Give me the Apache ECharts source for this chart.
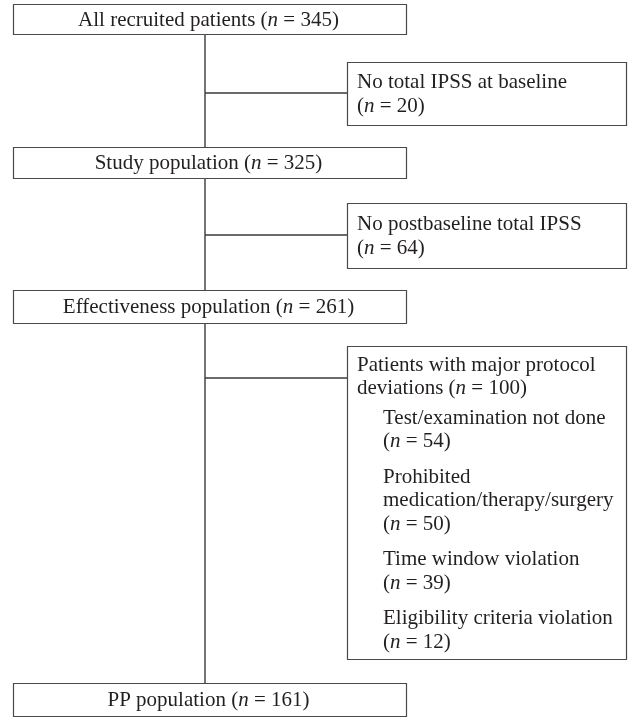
<!DOCTYPE html>
<html><head><meta charset="utf-8">
<script src="https://cdn.jsdelivr.net/npm/echarts@6/dist/echarts.min.js"></script>
<style>html,body{margin:0;padding:0;background:#fff}#c{width:632px;height:717px}</style>
</head><body><div id="c"></div>
<script>
// ---- data ----
const stageLabels = ['All recruited patients', 'Study population', 'Effectiveness population', 'PP population'];
const stageCounts = [345, 325, 261, 161];
const exclusionLabels = ['No total IPSS at baseline\n', 'No postbaseline total IPSS\n', 'Patients with major protocol\ndeviations '];
const exclusionCounts = [20, 64, 100];
const deviationLabels = ['Test/examination not done\n', 'Prohibited\nmedication/therapy/surgery\n', 'Time window violation\n', 'Eligibility criteria violation\n'];
const deviationCounts = [54, 50, 39, 12];

// ---- layout & style ----
const W = 632, H = 717;
const FONT = '"Liberation Serif", "Times New Roman", serif';
const FS = 21, LH = 23.5, GROUP_GAP = 12, HEADER_GAP = 6;
const TEXT_COLOR = '#231f20', LINE_COLOR = '#3a3a3a', BOX_COLOR = '#4a4a4a';
const layout = {
  spineX: 205,
  mainX: [13, 406],
  mainY: [[4, 34], [147, 178], [290, 323], [683, 716]],
  exclX: [347, 626],
  exclY: [[62, 125], [203, 268], [346, 659]],
  exclConnectY: [93, 235, 378],
  exclFirstLine: [null, null, 364],
  exclTextX: 357,
  devTextX: 383
};

function countText(n) { return '({i|n} = ' + n + ')'; }
function nLines(s) { return s.split('\n').length; }
const richStyle = { i: { fontStyle: 'italic', fontFamily: FONT, fontSize: FS, lineHeight: LH, fill: TEXT_COLOR } };

function textEl(x, y, text, align, vAlign) {
  return {
    type: 'text', x: x, y: y, z2: 10,
    style: {
      text: text, fill: TEXT_COLOR, fontFamily: FONT, fontSize: FS, lineHeight: LH,
      align: align, verticalAlign: vAlign, rich: richStyle
    }
  };
}
function rectEl(api, x0, y0, x1, y1) {
  const a = api.coord([x0, y0]), b = api.coord([x1, y1]);
  return {
    type: 'rect', z2: 5,
    shape: { x: Math.round(Math.min(a[0], b[0])) + 0.5, y: Math.round(Math.min(a[1], b[1])) + 0.5,
             width: Math.round(Math.abs(b[0] - a[0])), height: Math.round(Math.abs(b[1] - a[1])) },
    style: { fill: '#fff', stroke: BOX_COLOR, lineWidth: 1.2 }
  };
}
function lineEl(api, x0, y0, x1, y1) {
  const a = api.coord([x0, y0]), b = api.coord([x1, y1]);
  return {
    type: 'line', z2: 1,
    shape: { x1: a[0], y1: a[1], x2: b[0], y2: b[1] },
    style: { stroke: LINE_COLOR, lineWidth: 1.4 }
  };
}

// first-line centre of each deviation group, stacked under the exclusion header
const devStart = [];
for (let i = 0; i < deviationLabels.length; i++) {
  if (i === 0) devStart.push(layout.exclFirstLine[2] + nLines(exclusionLabels[2]) * LH + HEADER_GAP);
  else devStart.push(devStart[i - 1] + nLines(deviationLabels[i - 1]) * LH + GROUP_GAP);
}

const option = {
  animation: false,
  grid: { left: 0, right: 0, top: 0, bottom: 0 },
  xAxis: { type: 'value', min: 0, max: W, show: false },
  yAxis: { type: 'value', min: 0, max: H, inverse: true, show: false },
  series: [
    {
      name: 'connectors', type: 'custom', clip: false,
      data: exclusionLabels.map(function (_, i) { return [i, i]; }),
      renderItem: function (params, api) {
        const i = api.value(0);
        const x = layout.spineX;
        return {
          type: 'group',
          children: [
            lineEl(api, x, layout.mainY[i][1], x, layout.mainY[i + 1][0]),
            lineEl(api, x, layout.exclConnectY[i], layout.exclX[0], layout.exclConnectY[i])
          ]
        };
      }
    },
    {
      name: 'stages', type: 'custom', clip: false,
      data: stageLabels.map(function (_, i) { return [i, stageCounts[i]]; }),
      renderItem: function (params, api) {
        const i = api.value(0);
        const y = layout.mainY[i];
        const c = api.coord([(layout.mainX[0] + layout.mainX[1]) / 2 - 1, (y[0] + y[1]) / 2]);
        return {
          type: 'group',
          children: [
            rectEl(api, layout.mainX[0], y[0], layout.mainX[1], y[1]),
            textEl(c[0], c[1] + 1, stageLabels[i] + ' ' + countText(api.value(1)), 'center', 'middle')
          ]
        };
      }
    },
    {
      name: 'exclusions', type: 'custom', clip: false,
      data: exclusionLabels.map(function (_, i) { return [i, exclusionCounts[i]]; }),
      renderItem: function (params, api) {
        const i = api.value(0);
        const y = layout.exclY[i];
        const lab = exclusionLabels[i] + countText(api.value(1));
        const n = nLines(exclusionLabels[i]);
        let firstCenter = layout.exclFirstLine[i];
        if (firstCenter == null) firstCenter = (y[0] + y[1]) / 2 - (n - 1) * LH / 2;
        const p = api.coord([layout.exclTextX, firstCenter - LH / 2]);
        return {
          type: 'group',
          children: [
            rectEl(api, layout.exclX[0], y[0], layout.exclX[1], y[1]),
            textEl(p[0], p[1] + 1, lab, 'left', 'top')
          ]
        };
      }
    },
    {
      name: 'deviations', type: 'custom', clip: false, z: 3,
      data: deviationLabels.map(function (_, i) { return [i, deviationCounts[i]]; }),
      renderItem: function (params, api) {
        const i = api.value(0);
        const p = api.coord([layout.devTextX, devStart[i] - LH / 2]);
        return textEl(p[0], p[1] + 1, deviationLabels[i] + countText(api.value(1)), 'left', 'top');
      }
    }
  ]
};
const chart = echarts.init(document.getElementById('c'), null, { renderer: 'canvas' });
chart.setOption(option);
</script>
</body></html>
